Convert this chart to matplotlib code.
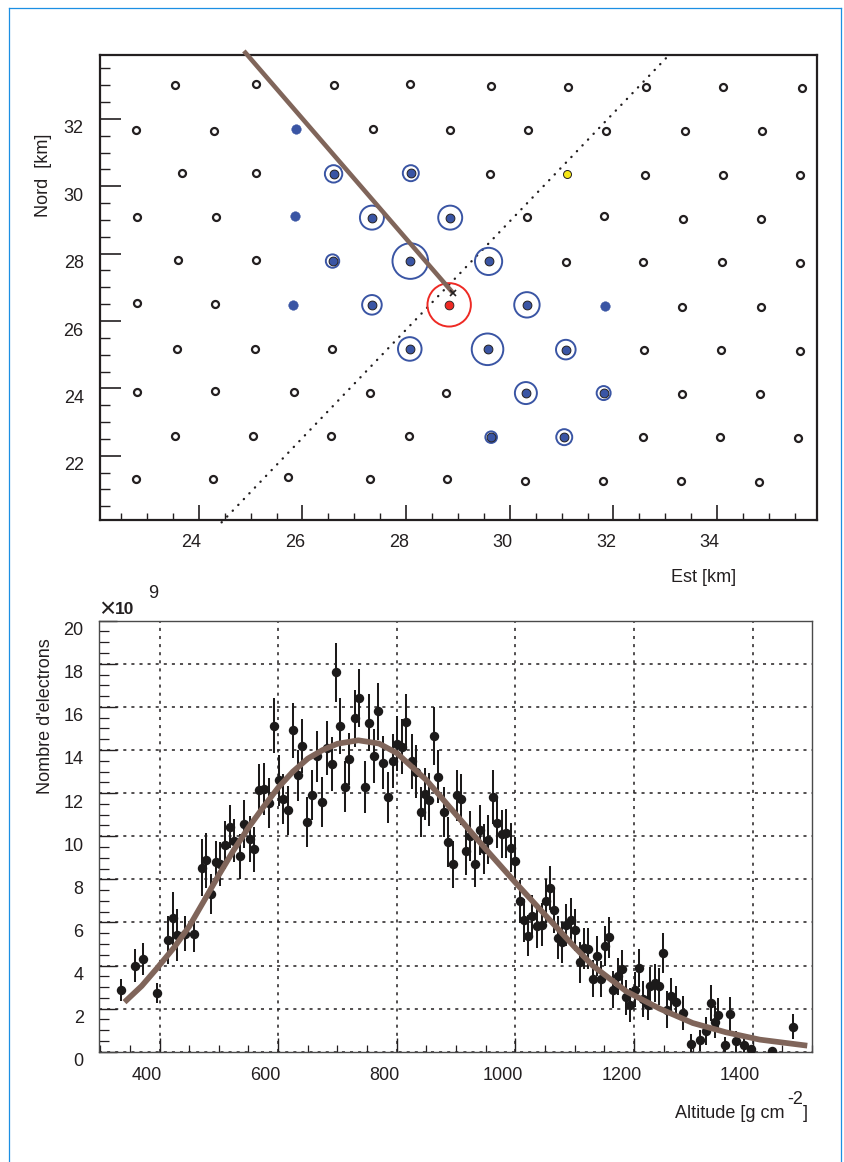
import matplotlib
matplotlib.use("Agg")
import numpy as np
import matplotlib.pyplot as plt
from matplotlib.lines import Line2D
from matplotlib.ticker import MultipleLocator
from matplotlib.transforms import ScaledTranslation

plt.rcParams['font.family'] = ['Liberation Sans', 'DejaVu Sans']

# surface detector stations, silent ones
off_x = [23.55, 25.105, 26.615, 28.07, 29.64, 31.12, 32.63, 34.12, 35.63,
         22.78, 24.30, 27.36, 28.85, 30.35, 31.86, 33.37, 34.86,
         23.67, 25.10, 29.61, 32.61, 34.11, 35.60,
         22.80, 24.33, 30.34, 31.81, 33.35, 34.85,
         23.60, 25.11, 31.09, 32.57, 34.09, 35.59,
         22.80, 24.31, 33.33, 34.84,
         23.58, 25.08, 26.57, 32.58, 34.08, 35.59,
         22.81, 24.31, 25.84, 27.30, 28.76, 33.32, 34.82,
         23.54, 25.05, 26.55, 28.05, 32.56, 34.05, 35.56,
         22.785, 24.28, 25.72, 27.30, 28.78, 30.30, 31.80, 33.30, 34.80]
off_y = [33.01, 33.05, 33.00, 33.05, 32.98, 32.95, 32.95, 32.94, 32.93,
         31.67, 31.64, 31.70, 31.67, 31.67, 31.64, 31.65, 31.63,
         30.39, 30.40, 30.37, 30.35, 30.35, 30.33,
         29.09, 29.08, 29.10, 29.13, 29.04, 29.03,
         27.80, 27.80, 27.75, 27.75, 27.75, 27.72,
         26.54, 26.51, 26.43, 26.42,
         25.18, 25.17, 25.17, 25.14, 25.13, 25.11,
         23.90, 23.91, 23.88, 23.86, 23.87, 23.83, 23.82,
         22.58, 22.59, 22.59, 22.59, 22.55, 22.55, 22.53,
         21.31, 21.31, 21.36, 21.32, 21.30, 21.26, 21.26, 21.24, 21.23]

# triggered stations, signal = ring radius
hit_x = [25.88, 26.60, 28.09, 25.86, 27.34, 28.85, 26.58, 28.08, 29.59, 25.81,
         27.34, 30.33, 31.83, 28.07, 29.57, 31.08, 30.31, 31.81, 29.64, 31.05]
hit_y = [31.69, 30.37, 30.39, 29.11, 29.07, 29.07, 27.78, 27.78, 27.77, 26.48,
         26.48, 26.48, 26.45, 25.17, 25.16, 25.15, 23.86, 23.86, 22.55, 22.55]
hit_signal = [0, 8.7, 8, 0, 12, 12, 6.7, 17.8, 13.6, 0,
              9.8, 12.7, 0, 11.8, 15.8, 9.8, 11, 7, 5.8, 8]
hot_x, hot_y, hot_signal = 28.83, 26.48, 21.7
odd_x, odd_y = 31.11, 30.37

# shower axis and core
track_x = [24.87, 28.90]
track_y = [34.02, 26.84]
front_x = [24.44, 33.09]
front_y = [20.02, 33.93]

# longitudinal profile, units of 1e9 electrons
depth = [335, 358, 373, 396, 415, 423, 430, 443, 458, 471, 479, 487, 495, 502, 511,
         519, 526, 535, 543, 552, 560, 568, 576, 584, 593, 601, 608, 617, 625, 633,
         641, 649, 657, 666, 674, 682, 690, 697, 705, 713, 720, 729, 737, 746, 754,
         761, 769, 777, 785, 793, 801, 809, 816, 825, 832, 840, 847, 855, 863, 870,
         879, 886, 894, 901, 909, 917, 923, 932, 940, 947, 954, 962, 969, 977, 984,
         992, 999, 1007, 1014, 1021, 1028, 1036, 1044, 1051, 1058, 1065, 1072, 1079,
         1086, 1093, 1101, 1109, 1115, 1123, 1130, 1137, 1144, 1151, 1158, 1165, 1173,
         1180, 1187, 1194, 1201, 1208, 1215, 1223, 1227, 1235, 1242, 1248, 1255, 1262,
         1271, 1282, 1296, 1312, 1322, 1329, 1336, 1342, 1353, 1362, 1372, 1385, 1398,
         1433, 1468]
electrons = [2.85, 4.0, 4.3, 2.72, 5.2, 6.19, 5.41, 5.47, 5.45, 8.54, 8.88, 7.33, 8.79, 8.71, 9.6,
             10.45, 9.8, 9.06, 10.56, 9.87, 9.4, 12.14, 12.19, 11.54, 15.13, 12.59, 11.74, 11.2, 14.91, 12.82,
             14.2, 10.67, 11.93, 13.7, 11.6, 14.1, 13.36, 17.6, 15.11, 12.3, 13.58, 15.47, 16.4, 12.27, 15.27,
             13.72, 15.8, 13.41, 11.8, 13.5, 14.3, 14.15, 15.3, 13.47, 13.0, 11.14, 11.97, 11.69, 14.66, 12.76,
             11.12, 9.74, 8.69, 11.89, 11.72, 9.33, 9.99, 8.72, 10.3, 9.4, 9.84, 11.8, 10.61, 10.11, 10.13,
             9.47, 8.85, 6.97, 6.1, 5.38, 6.32, 5.81, 5.89, 6.99, 7.58, 6.56, 5.28, 5.07,
             5.88, 6.13, 5.63, 4.14, 4.79, 4.78, 3.39, 4.44, 3.37, 4.89, 5.3, 2.88, 3.49,
             3.85, 2.52, 2.15, 2.88, 3.88, 2.45, 2.15, 3.03, 3.19, 3.03, 4.59, 1.95, 2.57,
             2.32, 1.81, 0.37, 0.52, 0.97, 2.26, 1.38, 1.72, 0.3, 1.76, 0.48, 0.31, 0.14,
             0.05, 1.15]
electrons_err = [0.51, 0.77, 0.76, 0.48, 1.12, 1.24, 1.21, 0.81, 0.81, 1.33, 1.28, 0.93, 1.0, 1.03, 1.1,
                 1.0, 1.0, 1.05, 1.1, 1.05, 1.05, 1.2, 1.2, 1.16, 1.28, 1.2, 1.16, 1.14, 1.28, 1.2,
                 1.26, 1.16, 1.16, 1.2, 1.15, 1.24, 1.24, 1.37, 1.31, 1.18, 1.2, 1.31, 1.34, 1.21, 1.33,
                 1.25, 1.33, 1.24, 1.2, 1.26, 1.28, 1.28, 1.3, 1.26, 1.25, 1.16, 1.2, 1.22, 1.35, 1.22,
                 1.16, 1.16, 1.08, 1.2, 1.18, 1.12, 1.16, 1.1, 1.16, 1.16, 1.14, 1.25, 1.16, 1.12, 1.12,
                 1.12, 1.1, 1.0, 1.0, 0.95, 0.97, 1.0, 1.0, 1.02, 1.02, 1.03, 1.0, 0.95,
                 0.97, 1.0, 0.97, 0.94, 0.94, 0.94, 0.87, 0.91, 0.83, 0.93, 0.95, 0.87, 0.88,
                 0.87, 0.8, 0.79, 0.81, 0.87, 0.85, 0.7, 0.89, 0.87, 0.85, 0.94, 0.87, 0.83,
                 0.72, 0.79, 0.45, 0.5, 0.65, 0.83, 0.74, 0.76, 0.4, 0.8, 0.5, 0.33, 0.17,
                 0.05, 0.58]

# fitted profile
fit_depth = [341, 370, 396, 425, 450, 475, 500, 525, 550, 575, 600, 625, 650, 675, 700, 735,
             770, 800, 850, 900, 950, 1000, 1050, 1100, 1130, 1187, 1243, 1299, 1355, 1412, 1492]
fit_electrons = [2.3, 3.05, 3.88, 4.85, 5.81, 7.0, 8.2, 9.35, 10.4, 11.35, 12.25, 13.0, 13.6, 14.0, 14.29, 14.45,
                 14.3, 13.86, 12.6, 11.0, 9.4, 7.85, 6.35, 4.85, 4.0, 2.8, 2.0, 1.33, 0.9, 0.56, 0.28]

W, H = 844, 1162
BROWN = '#80655a'
BLUE = '#3a55a4'
INK = '#231f20'


def ax_box(left, top, right, bottom):
    return [left / W, 1 - bottom / H, (right - left) / W, (bottom - top) / H]


def px_size(radius):
    # scatter wants pt^2, radius is in pixels at dpi 100
    return (2 * np.asarray(radius, dtype=float) * 0.72) ** 2


def shift_labels(labels, dx, dy):
    for lab in labels:
        lab.set_transform(lab.get_transform() + ScaledTranslation(dx * 0.72 / 72, dy * 0.72 / 72, fig.dpi_scale_trans))


fig = plt.figure(figsize=(W / 100, H / 100), dpi=100)

# page border
for xs, ys in [((8.5, 840.5), (7.5, 7.5)), ((8.5, 8.5), (7.5, 1162)), ((840.5, 840.5), (7.5, 1162))]:
    fig.add_artist(Line2D([x / W for x in xs], [1 - y / H for y in ys], color='#1b8fe3', lw=0.9))

# ---- top panel, array footprint
ax = fig.add_axes(ax_box(100.3, 55, 816.7, 520))
ax.set_xlim(22.1, 35.92)
ax.set_ylim(20.09, 33.9)

ax.scatter(off_x, off_y, s=px_size(3.5), facecolor='white', edgecolor=INK, linewidth=1.6, zorder=3)

hit_x, hit_y, hit_signal = np.array(hit_x), np.array(hit_y), np.array(hit_signal)
rings = hit_signal > 0
ax.scatter(hit_x[rings], hit_y[rings], s=px_size(hit_signal[rings]), facecolor='none', edgecolor=BLUE,
           linewidth=1.4, zorder=3)
ax.scatter(hit_x[rings], hit_y[rings], s=px_size(4.4), facecolor=BLUE, edgecolor=INK, linewidth=0.7, zorder=4)
ax.scatter(hit_x[~rings], hit_y[~rings], s=px_size(4.8), facecolor=BLUE, edgecolor=BLUE, linewidth=0.3, zorder=4)

ax.scatter([hot_x], [hot_y], s=px_size(hot_signal), facecolor='none', edgecolor='#ee2a24', linewidth=1.4, zorder=3)
ax.scatter([hot_x], [hot_y], s=px_size(4.4), facecolor='#ee2a24', edgecolor=INK, linewidth=0.6, zorder=4)
ax.scatter([odd_x], [odd_y], s=px_size(4), facecolor='#f5e616', edgecolor=INK, linewidth=0.7, zorder=4)

ax.plot(front_x, front_y, color=INK, lw=1.7, ls=(0, (0.1, 3.3)), dash_capstyle='round', zorder=2, clip_on=False)
ax.plot(track_x, track_y, color=BROWN, lw=3.3, solid_capstyle='butt', zorder=5, clip_on=False)
ax.plot(track_x[1], track_y[1], marker='x', color=INK, ms=5, mew=1.2, zorder=6)

ax.xaxis.set_major_locator(MultipleLocator(2))
ax.xaxis.set_minor_locator(MultipleLocator(0.5))
ax.yaxis.set_major_locator(MultipleLocator(2))
ax.yaxis.set_minor_locator(MultipleLocator(0.5))
ax.tick_params(axis='x', which='major', direction='in', length=10.5, width=1.2, color=INK,
               labelsize=13, labelcolor=INK, pad=10)
ax.tick_params(axis='x', which='minor', direction='in', length=4.8, width=1.0, color=INK)
ax.tick_params(axis='y', which='major', direction='in', length=15, width=1.2, color=INK,
               labelsize=13, labelcolor=INK, pad=12)
ax.tick_params(axis='y', which='minor', direction='in', length=7, width=1.0, color=INK)
for s in ax.spines.values():
    s.set_linewidth(1.6)
    s.set_color(INK)
shift_labels(ax.get_xticklabels(), -7.4, 0)
shift_labels(ax.get_yticklabels(), 0, -8)

fig.text(704 / W, 1 - 577 / H, 'Est [km]', fontsize=13, color=INK, ha='center', va='center')
fig.text(44 / W, 1 - 175 / H, 'Nord  [km]', fontsize=13, color=INK, ha='center', va='center', rotation=90)

# ---- bottom panel, longitudinal profile
ax2 = fig.add_axes(ax_box(99, 620.7, 812, 1051.7))
ax2.set_xlim(298, 1500)
ax2.set_ylim(0, 20)
ax2.set_axisbelow(True)
ax2.grid(True, which='major', color=INK, lw=1.1, ls=(0, (2.0, 3.3)))

ax2.errorbar(depth, electrons, yerr=electrons_err, fmt='o', color='#1c1a1a', ms=6.8, mew=0, elinewidth=1.45,
             capsize=0, zorder=3)
ax2.plot(fit_depth, fit_electrons, color=BROWN, lw=4.1, solid_capstyle='butt', solid_joinstyle='round', zorder=4)

ax2.xaxis.set_major_locator(MultipleLocator(200))
ax2.xaxis.set_minor_locator(MultipleLocator(50))
ax2.yaxis.set_major_locator(MultipleLocator(2))
ax2.yaxis.set_minor_locator(MultipleLocator(0.5))
ax2.tick_params(axis='x', which='major', direction='in', length=10, width=1.0, color=INK,
                labelsize=13, labelcolor=INK, pad=11)
ax2.tick_params(axis='x', which='minor', direction='in', length=5, width=0.9, color=INK)
ax2.tick_params(axis='y', which='major', direction='in', length=13, width=1.0, color=INK,
                labelsize=13, labelcolor=INK, pad=11)
ax2.tick_params(axis='y', which='minor', direction='in', length=7, width=0.9, color=INK)
for s in ax2.spines.values():
    s.set_linewidth(1.0)
    s.set_color('#4a4a4a')
shift_labels(ax2.get_xticklabels(), -12.5, 0)
shift_labels(ax2.get_yticklabels(), 0, -8)

fig.text(107.5 / W, 1 - 610 / H, '\u00d7', fontsize=20, color=INK, ha='center', va='center')
fig.text(115 / W, 1 - 610 / H, '10', fontsize=12.5, fontweight='bold', color=INK, ha='left', va='center')
fig.text(153 / W, 1 - 594 / H, '9', fontsize=13, color=INK, ha='center', va='center')
fig.text(46 / W, 1 - 716 / H, "Nombre d'electrons", fontsize=13, color=INK, ha='center', va='center', rotation=90)
fig.text(675 / W, 1 - 1113 / H, 'Altitude [g cm', fontsize=13, color=INK, ha='left', va='center')
fig.text(795 / W, 1 - 1100 / H, '-2', fontsize=13, color=INK, ha='center', va='center')
fig.text(805 / W, 1 - 1113 / H, ']', fontsize=13, color=INK, ha='center', va='center')

fig.savefig('out.png', dpi=100)
